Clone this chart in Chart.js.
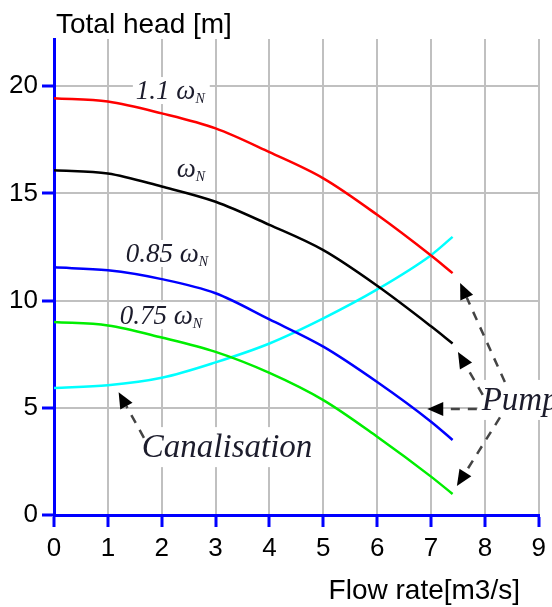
<!DOCTYPE html>
<html>
<head>
<meta charset="utf-8">
<script src="https://cdn.jsdelivr.net/npm/chart.js@4.4.1/dist/chart.umd.min.js"></script>
<style>
  html, body { margin: 0; padding: 0; background: #fff; }
  canvas { display: block; }
</style>
</head>
<body>
<canvas id="myChart" width="552" height="607"></canvas>
<script>
// Flow rate [m3/s] at which the curves were read
const flowRate = [0, 1, 2, 3, 4, 5, 6, 7, 7.4];

// Pump curves (total head, m) for several speeds
const head110 = [19.44, 19.28, 18.73, 18.03, 16.92, 15.7, 14.0, 12.1, 11.28];
const head100 = [16.08, 15.93, 15.32, 14.61, 13.53, 12.35, 10.69, 8.8, 8.0];
const head85 = [11.55, 11.41, 11.0, 10.34, 9.12, 7.85, 6.2, 4.35, 3.5];
const head75 = [9.0, 8.84, 8.28, 7.61, 6.63, 5.36, 3.65, 1.79, 0.98];

// System (canalisation) curve
const canalHead = [5.92, 6.05, 6.4, 7.12, 8.0, 9.17, 10.52, 12.12, 12.97];

// Axis ticks
const xTicks = [0, 1, 2, 3, 4, 5, 6, 7, 8, 9];
const yTicks = [0, 5, 10, 15, 20];

// Curve labels: text, subscript, anchor (flow, head)
const curveLabels = [
  { text: '1.1 ω', sub: 'N', x: 1.52, y: 19.4 },
  { text: 'ω', sub: 'N', x: 2.28, y: 15.76 },
  { text: '0.85 ω', sub: 'N', x: 1.33, y: 11.8 },
  { text: '0.75 ω', sub: 'N', x: 1.22, y: 8.9 }
];
const noteLabels = [
  { text: 'Canalisation', x: 1.63, y: 2.7 },
  { text: 'Pump', x: 7.94, y: 4.9 }
];
// Arrows: from (x1,y1) to tip (x2,y2)
const arrows = [
  { x1: 1.67, y1: 3.6, x2: 1.2, y2: 5.73 },
  { x1: 8.37, y1: 6.2, x2: 7.54, y2: 10.82 },
  { x1: 7.96, y1: 5.6, x2: 7.5, y2: 7.6 },
  { x1: 7.85, y1: 4.94, x2: 6.93, y2: 4.94 },
  { x1: 8.28, y1: 4.55, x2: 7.48, y2: 1.35 }
];

const toPoints = (vals) => vals.map((v, i) => ({ x: flowRate[i], y: v }));

const serif = '"Liberation Serif", "Times New Roman", serif';
const sans = '"Liberation Sans", Arial, sans-serif';

function labelWidth(ctx, lab, font, subFont) {
  ctx.font = font;
  let w = ctx.measureText(lab.text).width;
  if (lab.sub) { ctx.font = subFont; w += ctx.measureText(lab.sub).width; }
  return w;
}

const annotate = {
  id: 'annotate',
  beforeDatasetsDraw(chart) {
    // white boxes behind the labels hide the grid
    const { ctx, scales: { x, y } } = chart;
    ctx.save();
    ctx.fillStyle = '#fff';
    curveLabels.forEach(lab => {
      const px = x.getPixelForValue(lab.x), py = y.getPixelForValue(lab.y);
      const w = labelWidth(ctx, lab, 'italic 27px ' + serif, 'italic 14px ' + serif);
      ctx.fillRect(px - 3, py - 22, w + 8, 27);
    });
    ctx.font = 'italic 33px ' + serif;
    noteLabels.forEach(lab => {
      const px = x.getPixelForValue(lab.x), py = y.getPixelForValue(lab.y);
      const w = ctx.measureText(lab.text).width;
      ctx.fillRect(px - 4, py - 30, w + 8, 40);
    });
    ctx.restore();
  },
  afterDatasetsDraw(chart) {
    const { ctx, scales: { x, y } } = chart;
    ctx.save();
    ctx.fillStyle = '#1c1c2c';
    ctx.textBaseline = 'alphabetic';
    curveLabels.forEach(lab => {
      const px = x.getPixelForValue(lab.x), py = y.getPixelForValue(lab.y);
      ctx.font = 'italic 27px ' + serif;
      ctx.fillText(lab.text, px, py);
      const w = ctx.measureText(lab.text).width;
      ctx.font = 'italic 14px ' + serif;
      ctx.fillText(lab.sub, px + w, py + 4);
    });
    ctx.font = 'italic 33px ' + serif;
    noteLabels.forEach(lab => {
      ctx.fillText(lab.text, x.getPixelForValue(lab.x), y.getPixelForValue(lab.y));
    });

    // dashed arrows
    arrows.forEach(a => {
      const x1 = x.getPixelForValue(a.x1), y1 = y.getPixelForValue(a.y1);
      const x2 = x.getPixelForValue(a.x2), y2 = y.getPixelForValue(a.y2);
      const ang = Math.atan2(y2 - y1, x2 - x1);
      const hl = 16, hw = 7;
      const bx = x2 - hl * Math.cos(ang), by = y2 - hl * Math.sin(ang);
      ctx.strokeStyle = '#444';
      ctx.lineWidth = 2.5;
      ctx.setLineDash([9, 8]);
      ctx.beginPath();
      ctx.moveTo(x1, y1);
      ctx.lineTo(bx, by);
      ctx.stroke();
      ctx.setLineDash([]);
      ctx.fillStyle = '#000';
      ctx.beginPath();
      ctx.moveTo(x2, y2);
      ctx.lineTo(bx + hw * Math.sin(ang), by - hw * Math.cos(ang));
      ctx.lineTo(bx - hw * Math.sin(ang), by + hw * Math.cos(ang));
      ctx.closePath();
      ctx.fill();
    });

    // axis titles
    ctx.fillStyle = '#000';
    ctx.font = '28px ' + sans;
    ctx.textAlign = 'left';
    ctx.fillText('Total head [m]', 56, 33);
    ctx.textAlign = 'right';
    ctx.fillText('Flow rate[m3/s]', 520, 599);
    ctx.restore();
  }
};

const line = (data, color) => ({
  data: toPoints(data),
  borderColor: color,
  borderWidth: 2.5,
  pointRadius: 0,
  cubicInterpolationMode: 'monotone',
  fill: false
});

const ctx = document.getElementById('myChart').getContext('2d');
new Chart(ctx, {
  type: 'line',
  data: {
    datasets: [
      line(head110, '#ff0000'),
      line(head100, '#000000'),
      line(head85, '#0000ff'),
      line(head75, '#00ee00'),
      line(canalHead, '#00ffff')
    ]
  },
  options: {
    responsive: false,
    animation: false,
    layout: { padding: { left: 0, top: 39, right: 13, bottom: 0 } },
    plugins: { legend: { display: false }, tooltip: { enabled: false } },
    scales: {
      x: {
        type: 'linear',
        min: 0,
        max: 9,
        afterFit: s => { s.height = 92; },
        afterBuildTicks: s => { s.ticks = xTicks.map(v => ({ value: v })); },
        grid: { color: '#c0c0c0', lineWidth: 2, tickColor: '#0000ff', tickLength: 12, tickWidth: 3 },
        border: { color: '#0000ff', width: 3 },
        ticks: { color: '#000', padding: 6, font: { family: sans, size: 26 } }
      },
      y: {
        min: 0,
        max: 22.2,
        afterFit: s => { s.width = 54; },
        afterBuildTicks: s => { s.ticks = yTicks.map(v => ({ value: v })); },
        grid: { color: '#c0c0c0', lineWidth: 2, tickColor: '#0000ff', tickLength: 12, tickWidth: 3 },
        border: { color: '#0000ff', width: 3 },
        ticks: { color: '#000', padding: 4, font: { family: sans, size: 26 } }
      }
    }
  },
  plugins: [annotate]
});
</script>
</body>
</html>
